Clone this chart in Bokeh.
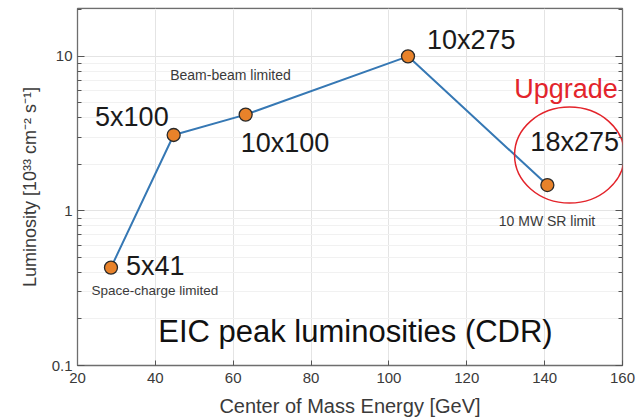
from bokeh.plotting import figure
from bokeh.models import (ColumnDataSource, Label, LogAxis, FixedTicker,
                          CustomJSTickFormatter, Range1d)
from bokeh.core.properties import value
from bokeh.embed import file_html
from bokeh.resources import INLINE

# ---- data ----
configs = ["5x41", "5x100", "10x100", "10x275", "18x275"]
energy = [28.6, 44.7, 63.2, 104.9, 140.7]      # GeV
luminosity = [0.43, 3.1, 4.2, 10.0, 1.47]     # 1e33 cm^-2 s^-1
x_ticks = [20, 40, 60, 80, 100, 120, 140, 160]
y_major = [0.1, 1, 10]
y_minor = [m * d for d in (0.1, 1, 10) for m in range(2, 10)]

# label placement (screen offsets relative to each point)
lab_align = ["left", "right", "left", "left", "left"]
lab_dx = [15, -5, -5, 19, -17]
lab_dy = [-2, -18, 28, -16, -43]

FONT = "Liberation Sans"

p = figure(frame_width=545, frame_height=357,
           x_range=Range1d(20, 160), y_range=Range1d(0.1, 20.4),
           y_axis_type="log", output_backend="svg", toolbar_location=None,
           min_border_left=77, min_border_right=15, min_border_top=8,
           min_border_bottom=10)

p.background_fill_color = "white"
p.outline_line_color = "#6e6e6e"
p.outline_line_width = 1.3

# grids
p.xgrid.ticker = FixedTicker(ticks=x_ticks)
p.xgrid.grid_line_color = "#e4e4e4"
p.ygrid.ticker = FixedTicker(ticks=y_major, minor_ticks=y_minor)
p.ygrid.grid_line_color = "#e4e4e4"
p.ygrid.minor_grid_line_color = "#f1f1f1"

fmt = CustomJSTickFormatter(code="return String(parseFloat(tick.toPrecision(3)));")
blank = CustomJSTickFormatter(code="return '';")

# axes
xa = p.xaxis[0]
xa.ticker = FixedTicker(ticks=x_ticks)
xa.axis_line_color = "#6e6e6e"
xa.major_tick_in = 5
xa.major_tick_out = 0
xa.major_tick_line_color = "#555555"
xa.minor_tick_line_color = None
xa.major_label_text_font = FONT
xa.major_label_text_font_size = "15px"
xa.major_label_text_color = "#3a3a3a"
xa.major_label_standoff = 7
xa.axis_label = "Center of Mass Energy [GeV]"
xa.axis_label_text_font = FONT
xa.axis_label_text_font_size = "20px"
xa.axis_label_text_font_style = "normal"
xa.axis_label_text_color = "#3a3a3a"
xa.axis_label_standoff = 9

ya = p.yaxis[0]
ya.ticker = FixedTicker(ticks=y_major, minor_ticks=y_minor)
ya.formatter = fmt
ya.axis_line_color = "#6e6e6e"
ya.major_tick_in = 7
ya.major_tick_out = 0
ya.minor_tick_in = 4
ya.minor_tick_out = 0
ya.major_tick_line_color = "#555555"
ya.minor_tick_line_color = "#555555"
ya.major_label_text_font = FONT
ya.major_label_text_font_size = "15px"
ya.major_label_text_color = "#3a3a3a"
ya.major_label_standoff = 5
ya.axis_label = "Luminosity [10\u00b3\u00b3 cm\u207b\u00b2 s\u207b\u00b9]"
ya.axis_label_text_font = FONT
ya.axis_label_text_font_size = "18px"
ya.axis_label_text_font_style = "normal"
ya.axis_label_text_color = "#3a3a3a"
ya.axis_label_standoff = 9

ra = LogAxis(ticker=FixedTicker(ticks=y_major, minor_ticks=y_minor),
             formatter=blank, axis_line_color=None,
             major_tick_in=7, major_tick_out=0, minor_tick_in=4, minor_tick_out=0,
             major_tick_line_color="#555555", minor_tick_line_color="#555555",
             major_label_standoff=0)
p.add_layout(ra, "right")

# data line and markers
src = ColumnDataSource(dict(x=energy, y=luminosity, lab=configs,
                            align=lab_align, dx=lab_dx, dy=lab_dy))
p.line("x", "y", source=src, line_color="#3678b4", line_width=2)
p.scatter("x", "y", source=src, size=13, fill_color="#e8822a",
          line_color="#2a2a2a", line_width=1.3)
p.text("x", "y", text="lab", source=src, text_align="align",
       x_offset="dx", y_offset="dy", text_baseline="middle",
       text_font=value(FONT), text_font_size="27px", text_color="#1a1a1a")

# annotations
def lab(x, y, text, size="14px", color="#3a3a3a", style="normal"):
    return Label(x=x, y=y, text=text, text_font=FONT, text_font_size=size,
                 text_color=color, text_font_style=style,
                 text_align="center", text_baseline="middle")

p.add_layout(lab(59.3, 7.54, "Beam-beam limited"))
p.add_layout(lab(39.9, 0.305, "Space-charge limited", size="13.5px"))
p.add_layout(lab(140.6, 0.862, "10 MW SR limit"))
p.add_layout(lab(145.5, 6.17, "Upgrade", size="27px", color="#e3242b"))
p.add_layout(lab(91.4, 0.166, "EIC peak luminosities (CDR)", size="31px",
                 color="#111111"))

p.ellipse(x=[146.4], y=[2.30], width=110, height=96, width_units="screen",
          height_units="screen", fill_color=None, line_color="#e3242b",
          line_width=1.5)

open("out.html", "w").write(file_html(p, INLINE))
